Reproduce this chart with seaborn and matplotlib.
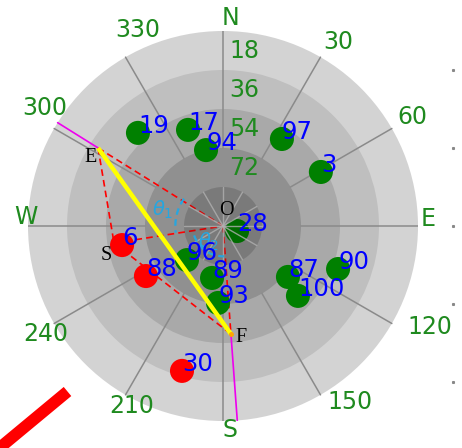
import numpy as np
import pandas as pd
import matplotlib
matplotlib.use('Agg')
import matplotlib.pyplot as plt
import seaborn as sns
from matplotlib.patches import Circle, Arc
from matplotlib.lines import Line2D

sns.set_theme(style='white')
plt.rcParams['font.family'] = ['DejaVu Sans']

# ---------------- data ----------------
sat_ids = ['19', '17', '94', '97', '3', '28', '96', '89', '93', '88', '6', '30', '87', '100', '90']
sat_az = [317.6, 340.0, 347.4, 34.1, 61.1, 109.7, 226.6, 191.9, 183.7, 237.0, 259.3, 195.8, 128.1, 133.0, 110.5]
sat_el = [31.8, 42.8, 54.1, 41.5, 38.4, 83.1, 67.1, 65.5, 54.4, 47.6, 42.6, 20.5, 51.9, 42.7, 33.3]
sat_state = ['used'] * 9 + ['excluded'] * 3 + ['used'] * 3

pt_names = ['E', 'S', 'F']
pt_az = [302.0, 261.1, 175.8]
pt_el = [22.0, 39.1, 40.0]

az_labels = ['N', '30', '60', 'E', '120', '150', 'S', '210', '240', 'W', '300', '330']
az_label_pos = [2.2, 32.1, 60.0, 88.0, 116.0, 144.2, 178.0, 206.8, 238.6, 272.6, 303.5, 336.5]
az_label_r = [96.1, 100.0, 100.7, 94.7, 106.3, 100.2, 94.2, 93.1, 95.7, 91.0, 98.6, 98.4]

ring_elev = [18, 36, 54, 72]
band_edges = [90, 72, 54, 36, 18]
band_colors = ['#d3d3d3', '#bfbfbf', '#a9a9a9', '#909090']


def to_xy(az, el):
    az = np.radians(np.asarray(az, dtype=float))
    r = 90.0 - np.asarray(el, dtype=float)
    return r * np.sin(az), r * np.cos(az)


def polar_xy(az, r):
    a = np.radians(az)
    return r * np.sin(a), r * np.cos(a)


# ---------------- figure ----------------
W, H = 462, 448
fig = plt.figure(figsize=(W / 100, H / 100), dpi=100)
cx, cy, R = 223, 226, 195
ax = fig.add_axes([(cx - R) / W, (H - cy - R) / H, 2 * R / W, 2 * R / H])
ax.set_xlim(-90, 90)
ax.set_ylim(-90, 90)
ax.set_aspect('equal')
ax.axis('off')

# bands
for rr, col in zip(band_edges[:-1], band_colors):
    ax.add_patch(Circle((0, 0), rr, facecolor=col, edgecolor='none', zorder=1))

# outer spokes
for a in range(0, 360, 30):
    x0, y0 = polar_xy(a, 36)
    x1, y1 = polar_xy(a, 90)
    ax.plot([x0, x1], [y0, y1], color='#8a8a8a', lw=1.1, zorder=2)

# geometry lines
ex, ey = to_xy(pt_az, pt_el)
E = (ex[0], ey[0]); S = (ex[1], ey[1]); F = (ex[2], ey[2]); O = (0.0, 0.0)
dash = dict(color='red', lw=1.2, linestyle=(0, (4, 2.5)), zorder=3)
for p, q in [(E, O), (O, F), (E, S), (S, F), (S, O)]:
    ax.plot([p[0], q[0]], [p[1], q[1]], **dash)

# magenta radial extensions to horizon
for i in (0, 2):
    hx, hy = to_xy(pt_az[i], 0)
    ax.plot([ex[i], hx], [ey[i], hy], color='#ee00ee', lw=1.2, zorder=3)

# satellites
df = pd.DataFrame({'id': sat_ids, 'az': sat_az, 'el': sat_el, 'state': sat_state})
df['x'], df['y'] = to_xy(df['az'], df['el'])
sns.scatterplot(data=df, x='x', y='y', hue='state',
                palette={'used': 'green', 'excluded': 'red'},
                s=300, edgecolor='none', legend=False, ax=ax, zorder=4)

# inner disk overlay + spokes
ax.add_patch(Circle((0, 0), 18, facecolor='black', alpha=0.15, edgecolor='none', zorder=4.5))
for a in range(0, 360, 30):
    x1, y1 = polar_xy(a, 18)
    ax.plot([0, x1], [0, y1], color='#b0b0b0', lw=1.0, alpha=0.8, zorder=4.6)

# yellow E-F
ax.plot([E[0], F[0]], [E[1], F[1]], color='yellow', lw=3.2, zorder=5, solid_capstyle='butt')
ax.plot([F[0]], [F[1]], 'o', color='orange', ms=2.5, zorder=5.5)

# angle arcs
cyan = '#26a6e0'
ax.add_patch(Arc((0, 0), 44, 44, theta1=90 - 305, theta2=90 - 262, color=cyan, lw=1.6,
                 linestyle=(0, (3, 2)), zorder=6))
ax.add_patch(Arc((0, 0), 28, 28, theta1=90 - 252, theta2=90 - 178, color=cyan, lw=1.6,
                 linestyle=(0, (3, 2)), zorder=6))
tx, ty = polar_xy(284.7, 29)
ax.text(tx, ty, r'$\theta_1$', color=cyan, fontsize=14, ha='center', va='center', zorder=7)
tx, ty = polar_xy(223, 10)
ax.text(tx, ty, r'$\theta_2$', color=cyan, fontsize=14, ha='center', va='center', zorder=7)

# satellite labels
for _, row in df.iterrows():
    ax.text(row['x'], row['y'], row['id'], color='blue', fontsize=17.5, zorder=8)

# point labels
serif = dict(family=['Liberation Serif', 'DejaVu Serif'], fontsize=14.5, color='black', zorder=8)
ax.annotate('O', xy=O, xytext=(2.5, 4), textcoords='offset points', ha='center', va='bottom', **serif)
ax.annotate('E', xy=E, xytext=(-1, 0), textcoords='offset points', ha='right', va='top', **serif)
ax.annotate('S', xy=S, xytext=(-1.5, -2), textcoords='offset points', ha='right', va='top', **serif)
ax.annotate('F', xy=F, xytext=(3, 4), textcoords='offset points', ha='left', va='top', **serif)

# azimuth labels
for lab, a, rr in zip(az_labels, az_label_pos, az_label_r):
    x, y = polar_xy(a, rr)
    ax.text(x, y, lab, color='#1f8a1f', fontsize=17, ha='center', va='center', clip_on=False)

# elevation ring labels
for v in ring_elev:
    ax.text(9.7, 90 - v + 9, str(v), color='#1f8a1f', fontsize=17, ha='center', va='center')

# small tick dots at right edge
ax.plot([106] * 5, [72, 36, 0, -36, -72], 's', color='#888888', ms=1.2, clip_on=False)

# red stroke bottom-left
fig.add_artist(Line2D([67.5 / W, -32.5 / W], [(H - 391.5) / H, (H - 474.5) / H],
                      transform=fig.transFigure, color='red', lw=8.5, solid_capstyle='butt'))

fig.savefig('out.png', dpi=100)
